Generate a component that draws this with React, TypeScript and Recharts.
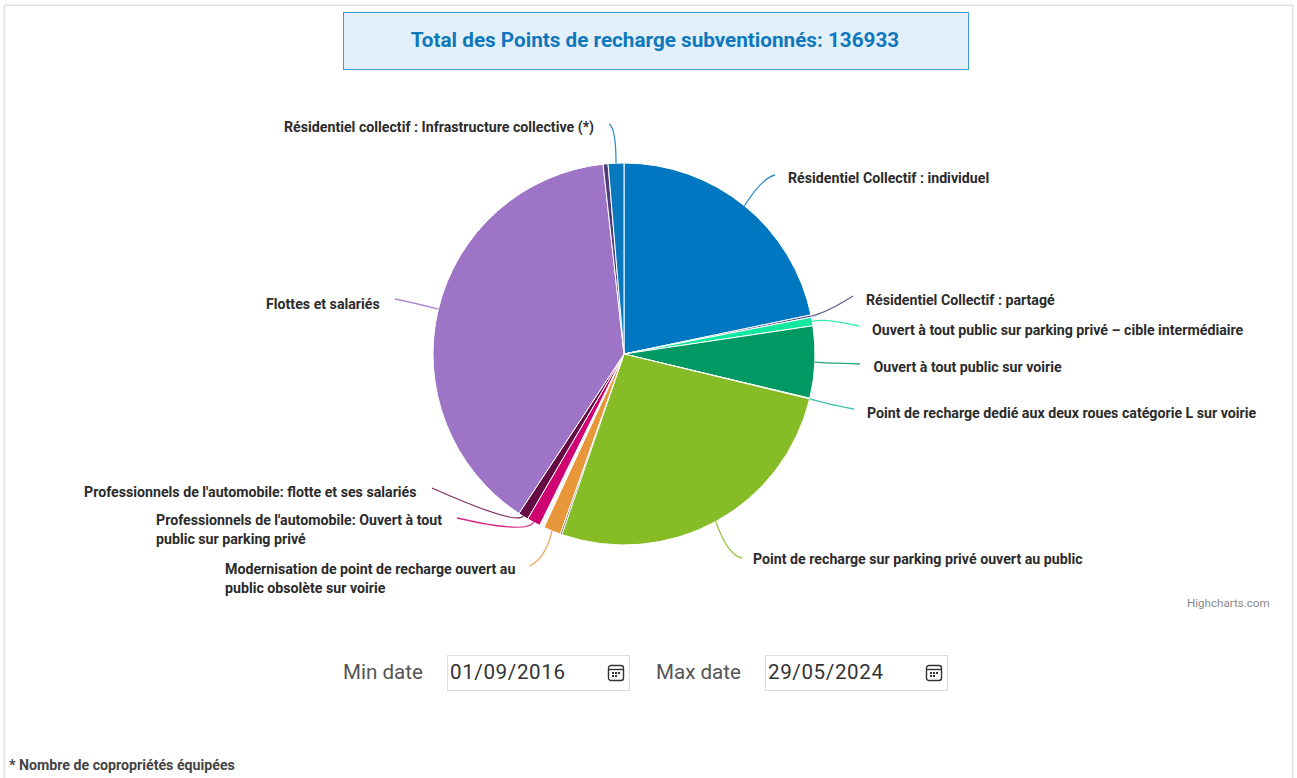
import { PieChart, Pie, Cell } from "recharts";

const sliceNames = [
  "Résidentiel Collectif : individuel",
  "Résidentiel Collectif : partagé",
  "Ouvert à tout public sur parking privé – cible intermédiaire",
  "Ouvert à tout public sur voirie",
  "Point de recharge dedié aux deux roues catégorie L sur voirie",
  "Point de recharge sur parking privé ouvert au public",
  "Autre",
  "Modernisation de point de recharge ouvert au public obsolète sur voirie",
  "Autre clair",
  "Professionnels de l'automobile: Ouvert à tout public sur parking privé",
  "Professionnels de l'automobile: flotte et ses salariés",
  "Flottes et salariés",
  "Autre résidentiel",
  "Résidentiel collectif : Infrastructure collective (*)",
];
const sliceValues = [29745, 266, 989, 8330, 76, 36288, 190, 2016, 533, 1560, 1179, 53367, 570, 1824];
const sliceColors = [
  "#0078c1", "#47477f", "#12e8a0", "#009963", "#1fb89c", "#86bc25", "#333333",
  "#e8963a", "#f8f8f8", "#cf0071", "#660a44", "#9e75c6", "#4f3a7a", "#0a78bd",
];

const pieData = sliceNames.map((name, i) => ({ name, value: sliceValues[i] }));

const CX = 624;
const CY = 354;

// label layout, absolute page pixels: text lines + connector elbow and end
const labelLayout: Record<number, { x: number; y: number; lines?: string[]; elbow: number[]; end: number[] }> = {
  0: { x: 788, y: 183, elbow: [762, 178], end: [775, 175] },
  1: { x: 866, y: 305, elbow: [826, 313], end: [853, 296] },
  2: { x: 872, y: 335, elbow: [824, 318], end: [859, 326] },
  3: { x: 873.5, y: 372, elbow: [826, 363], end: [860, 364] },
  4: { x: 867, y: 417.5, elbow: [822, 403], end: [854, 409] },
  5: { x: 753, y: 563.5, elbow: [728, 556], end: [742, 558] },
  7: {
    x: 225, y: 573.5, elbow: [545, 560], end: [529, 566],
    lines: ["Modernisation de point de recharge ouvert au", "public obsolète sur voirie"],
  },
  9: {
    x: 156, y: 524.5, elbow: [527, 534], end: [457, 518],
    lines: ["Professionnels de l'automobile: Ouvert à tout", "public sur parking privé"],
  },
  10: { x: 84, y: 496.5, elbow: [515, 525], end: [432, 488] },
  11: { x: 266, y: 308.5, elbow: [415, 303], end: [395, 299] },
  13: { x: 284, y: 131.5, elbow: [616, 128], end: [609, 124] },
};

function SliceLabel(props: any) {
  const layout = labelLayout[props.index];
  if (!layout) return null;
  const lines = layout.lines ?? [sliceNames[props.index]];
  return (
    <text x={layout.x} y={layout.y} fontFamily="Roboto" fontSize={14.2} fontWeight={700} fill="#2b2b2b">
      {lines.map((line, i) => (
        <tspan key={line} x={layout.x} y={layout.y + i * 19}>
          {line}
        </tspan>
      ))}
    </text>
  );
}

function SliceLine(props: any) {
  const layout = labelLayout[props.index];
  if (!layout) return <g />;
  const [start] = props.points;
  const d = `M${start.x} ${start.y} Q${layout.elbow[0]} ${layout.elbow[1]} ${layout.end[0]} ${layout.end[1]}`;
  return <path d={d} fill="none" stroke={sliceColors[props.index]} strokeWidth={1.3} strokeOpacity={0.85} />;
}

function CalendarIcon() {
  return (
    <svg width={18} height={18} viewBox="0 0 18 18" style={{ position: "absolute", right: 4, top: 8 }}>
      <rect x={1.5} y={1.5} width={15} height={15} rx={2.5} fill="none" stroke="#333" strokeWidth={1.4} />
      <line x1={1.5} y1={5.5} x2={16.5} y2={5.5} stroke="#333" strokeWidth={1.4} />
      <rect x={5} y={8} width={2} height={2} fill="#333" />
      <rect x={8} y={8} width={2} height={2} fill="#333" />
      <rect x={11} y={8} width={2} height={2} fill="#333" />
      <rect x={5} y={11} width={2} height={2} fill="#333" />
      <rect x={8} y={11} width={2} height={2} fill="#333" />
    </svg>
  );
}

function DateField({ label, value, labelX, boxX }: { label: string; value: string; labelX: number; boxX: number }) {
  return (
    <>
      <div style={{ position: "absolute", left: labelX, top: 659, fontSize: 20.6, lineHeight: "26px", color: "#555" }}>
        {label}
      </div>
      <div
        style={{
          position: "absolute", left: boxX, top: 655, width: 183, height: 36, boxSizing: "border-box",
          border: "1px solid #dcdcdc",
        }}
      >
        <span style={{ position: "absolute", left: 2, top: 3, fontSize: 20.6, lineHeight: "26px", color: "#333", letterSpacing: 0.6 }}>
          {value}
        </span>
        <CalendarIcon />
      </div>
    </>
  );
}

export default function App() {
  return (
    <div style={{ position: "absolute", left: 0, top: 0, width: 1297, height: 778, overflow: "hidden", background: "#fff", fontFamily: "Roboto" }}>
      <div
        style={{
          position: "absolute", left: 4, top: 5, width: 1289, height: 790, boxSizing: "border-box",
          border: "1px solid #dedede", boxShadow: "0 0 2px #ddd",
        }}
      />
      <div
        style={{
          position: "absolute", left: 343, top: 12, width: 626, height: 58, boxSizing: "border-box",
          background: "#e3f0f9", border: "1px solid #3f9dd3", color: "#0f78bd", fontSize: 20.7, fontWeight: 700,
          lineHeight: "55px", textAlign: "center", paddingRight: 2,
        }}
      >
        Total des Points de recharge subventionnés: 136933
      </div>

      <div style={{ position: "absolute", left: 0, top: 0 }}>
        <PieChart width={1297} height={778} margin={{ top: 0, right: 0, bottom: 0, left: 0 }}>
          <Pie
            data={pieData}
            dataKey="value"
            nameKey="name"
            cx={CX}
            cy={CY}
            innerRadius={0}
            outerRadius={191}
            startAngle={90}
            endAngle={-270}
            stroke="#ffffff"
            strokeWidth={1}
            label={SliceLabel}
            labelLine={SliceLine}
            isAnimationActive={false}
          >
            {pieData.map((d, i) => (
              <Cell key={d.name} fill={sliceColors[i]} />
            ))}
          </Pie>
        </PieChart>
      </div>

      <div style={{ position: "absolute", left: 1187, top: 596, fontSize: 11.6, color: "#8a8a8a" }}>Highcharts.com</div>

      <DateField label="Min date" value="01/09/2016" labelX={343} boxX={447} />
      <DateField label="Max date" value="29/05/2024" labelX={656} boxX={765} />

      <div style={{ position: "absolute", left: 9, top: 757, fontSize: 14.2, fontWeight: 700, color: "#444" }}>
        * Nombre de copropriétés équipées
      </div>
    </div>
  );
}
